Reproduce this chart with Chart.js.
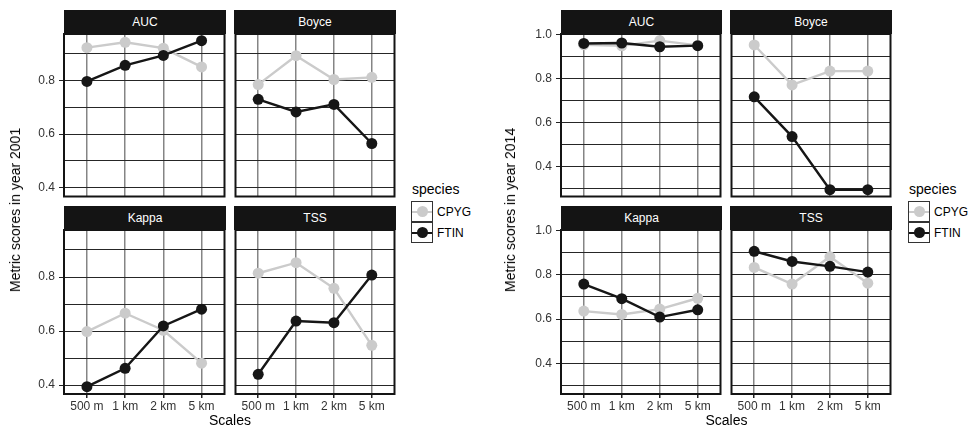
<!DOCTYPE html>
<html>
<head>
<meta charset="utf-8">
<script src="https://cdn.jsdelivr.net/npm/chart.js@4.4.1/dist/chart.umd.min.js"></script>
<style>
  body { margin: 0; width: 972px; height: 427px; position: relative; overflow: hidden; background: #fff;
         font-family: "Liberation Sans", Arial, sans-serif; }
  canvas { position: absolute; }
  .strip { position: absolute; height: 24px; line-height: 24px; background: #141414; color: #fff;
           font-size: 12px; text-align: center; z-index: 2; }
  .title { position: absolute; font-size: 14px; color: #000; white-space: nowrap; line-height: 1;
           transform: translate(-50%, -50%); }
  .ytitle { transform: translate(-50%, -50%) rotate(-90deg); }
  .legtitle { position: absolute; font-size: 14px; line-height: 1; transform: translateY(-50%); }
  .key { position: absolute; width: 20px; height: 19px; border: 1px solid #333; background: #fff; }
  .key .ln { position: absolute; left: 0; right: 0; top: 8.5px; height: 2.4px; }
  .key .pt { position: absolute; left: 4.5px; top: 4px; width: 11px; height: 11px; border-radius: 50%; }
  .leglab { position: absolute; font-size: 12px; line-height: 1; transform: translateY(-50%); }
</style>
</head>
<body>
<script>
// categories
const scaleLabels = ['500 m', '1 km', '2 km', '5 km'];
const metrics = ['AUC', 'Boyce', 'Kappa', 'TSS'];

// year 2001
const auc2001Cpyg   = [0.923, 0.943, 0.921, 0.851];
const auc2001Ftin   = [0.797, 0.857, 0.894, 0.949];
const boyce2001Cpyg = [0.785, 0.893, 0.804, 0.812];
const boyce2001Ftin = [0.730, 0.683, 0.711, 0.565];
const kappa2001Cpyg = [0.598, 0.666, 0.603, 0.481];
const kappa2001Ftin = [0.394, 0.462, 0.619, 0.681];
const tss2001Cpyg   = [0.814, 0.853, 0.758, 0.547];
const tss2001Ftin   = [0.440, 0.637, 0.631, 0.807];

// year 2014
const auc2014Cpyg   = [0.953, 0.948, 0.972, 0.950];
const auc2014Ftin   = [0.959, 0.961, 0.944, 0.949];
const boyce2014Cpyg = [0.952, 0.770, 0.833, 0.833];
const boyce2014Ftin = [0.716, 0.535, 0.293, 0.293];
const kappa2014Cpyg = [0.636, 0.621, 0.645, 0.694];
const kappa2014Ftin = [0.758, 0.692, 0.609, 0.642];
const tss2014Cpyg   = [0.833, 0.758, 0.881, 0.762];
const tss2014Ftin   = [0.906, 0.860, 0.838, 0.812];

// y axes
const yRange2001 = [0.367, 0.974];
const yGrid2001 = [0.4, 0.5, 0.6, 0.7, 0.8, 0.9];
const yLabels2001 = [0.4, 0.6, 0.8];
const yRange2014 = [0.262, 1.002];
const yGrid2014 = [0.3, 0.4, 0.5, 0.6, 0.7, 0.8, 0.9, 1.0];
const yLabels2014 = [0.4, 0.6, 0.8, 1.0];

const colCpyg = '#cbcbcb';
const colFtin = '#161616';

Chart.defaults.font.family = '"Liberation Sans", Arial, sans-serif';
Chart.defaults.font.size = 12;

const panelBorder = {
  id: 'panelBorder',
  afterDraw(chart) {
    const { ctx, chartArea: a } = chart;
    ctx.save();
    ctx.strokeStyle = '#141414';
    ctx.lineWidth = 2;
    ctx.strokeRect(a.left, a.top, a.right - a.left, a.bottom - a.top);
    ctx.restore();
  }
};

function addDiv(cls, text, css) {
  const d = document.createElement('div');
  d.className = cls;
  if (text) d.textContent = text;
  Object.assign(d.style, css);
  document.body.appendChild(d);
  return d;
}

function isLabel(list, v) {
  return list.some(l => Math.abs(l - v) < 1e-6);
}

function panel(p) {
  const padT = 10, padR = 4;
  const padL = p.showY ? 48 : 4;
  const padB = p.showX ? 26 : 4;
  const W = padL + p.w + padR, H = padT + p.h + padB;
  const c = document.createElement('canvas');
  c.width = W; c.height = H;
  c.style.left = (p.x - padL) + 'px';
  c.style.top = (p.y - padT) + 'px';
  c.style.width = W + 'px';
  c.style.height = H + 'px';
  document.body.appendChild(c);

  addDiv('strip', p.metric, { left: p.x + 'px', top: (p.y - 24) + 'px', width: p.w + 'px' });

  const pts = arr => arr.map((v, i) => ({ x: i + 1, y: v }));
  const ds = (label, arr, col, order) => ({
    label, data: pts(arr), order,
    borderColor: col, backgroundColor: col, borderWidth: 2.4,
    pointRadius: 5.5, pointBorderWidth: 0, pointBackgroundColor: col,
    tension: 0
  });

  new Chart(c, {
    type: 'line',
    data: { datasets: [ds('CPYG', p.cp, colCpyg, 1), ds('FTIN', p.ft, colFtin, 0)] },
    options: {
      responsive: false,
      animation: false,
      events: [],
      layout: { padding: { left: p.showY ? 0 : padL, top: padT, right: padR, bottom: p.showX ? 0 : padB } },
      plugins: { legend: { display: false }, tooltip: { enabled: false } },
      scales: {
        x: {
          type: 'linear', min: 0.4, max: 4.6, bounds: 'data',
          afterBuildTicks: s => { s.ticks = scaleLabels.map((_, i) => ({ value: i + 1 })); },
          afterFit: s => { s.height = p.showX ? padB : 0; s.paddingLeft = 0; s.paddingRight = 0; },
          ticks: { display: p.showX, autoSkip: false, maxRotation: 0, padding: 1, color: '#333',
                   callback: v => scaleLabels[v - 1] },
          grid: { color: '#858585', lineWidth: 1.5, drawTicks: p.showX, tickLength: 4, tickColor: '#222' },
          border: { display: false }
        },
        y: {
          min: p.range[0], max: p.range[1], bounds: 'data',
          afterBuildTicks: s => { s.ticks = p.grid.map(v => ({ value: v })); },
          afterFit: s => { s.width = p.showY ? padL : 0; s.paddingTop = 0; s.paddingBottom = 0; },
          ticks: { display: p.showY, padding: 4, color: '#333',
                   callback: v => isLabel(p.labels, v) ? v.toFixed(1) : '' },
          grid: { color: '#262626', lineWidth: 1, drawTicks: p.showY, tickLength: 5,
                  tickColor: ctx => isLabel(p.labels, ctx.tick.value) ? '#222' : 'rgba(0,0,0,0)' },
          border: { display: false }
        }
      }
    },
    plugins: [panelBorder]
  });
}

function block(b) {
  const rows = [34, 230], h = 164;
  b.series.forEach((s, i) => {
    const col = i % 2, row = Math.floor(i / 2);
    panel({
      x: b.xs[col], y: rows[row], w: b.ws[col], h,
      metric: metrics[i], cp: s[0], ft: s[1],
      range: b.range, grid: b.grid, labels: b.labels,
      showY: col === 0, showX: row === 1
    });
  });
  addDiv('title ytitle', b.ytitle, { left: b.ytx + 'px', top: '210px' });
  addDiv('title', 'Scales', { left: ((b.xs[0] + b.xs[1] + b.ws[1]) / 2) + 'px', top: '420px' });
  addDiv('legtitle', 'species', { left: b.legx + 'px', top: '189px' });
  [['CPYG', colCpyg, 201], ['FTIN', colFtin, 222]].forEach(([name, col, top]) => {
    const k = addDiv('key', '', { left: (b.legx - 1) + 'px', top: top + 'px' });
    const ln = document.createElement('div'); ln.className = 'ln'; ln.style.background = col; k.appendChild(ln);
    const pt = document.createElement('div'); pt.className = 'pt'; pt.style.background = col; k.appendChild(pt);
    addDiv('leglab', name, { left: (b.legx + 25) + 'px', top: (top + 11) + 'px' });
  });
}

block({
  xs: [64, 234], ws: [162, 162], range: yRange2001, grid: yGrid2001, labels: yLabels2001,
  ytitle: 'Metric scores in year 2001', ytx: 15, legx: 412,
  series: [[auc2001Cpyg, auc2001Ftin], [boyce2001Cpyg, boyce2001Ftin],
           [kappa2001Cpyg, kappa2001Ftin], [tss2001Cpyg, tss2001Ftin]]
});
block({
  xs: [561, 730], ws: [161, 162], range: yRange2014, grid: yGrid2014, labels: yLabels2014,
  ytitle: 'Metric scores in year 2014', ytx: 510, legx: 909,
  series: [[auc2014Cpyg, auc2014Ftin], [boyce2014Cpyg, boyce2014Ftin],
           [kappa2014Cpyg, kappa2014Ftin], [tss2014Cpyg, tss2014Ftin]]
});
</script>
</body>
</html>
